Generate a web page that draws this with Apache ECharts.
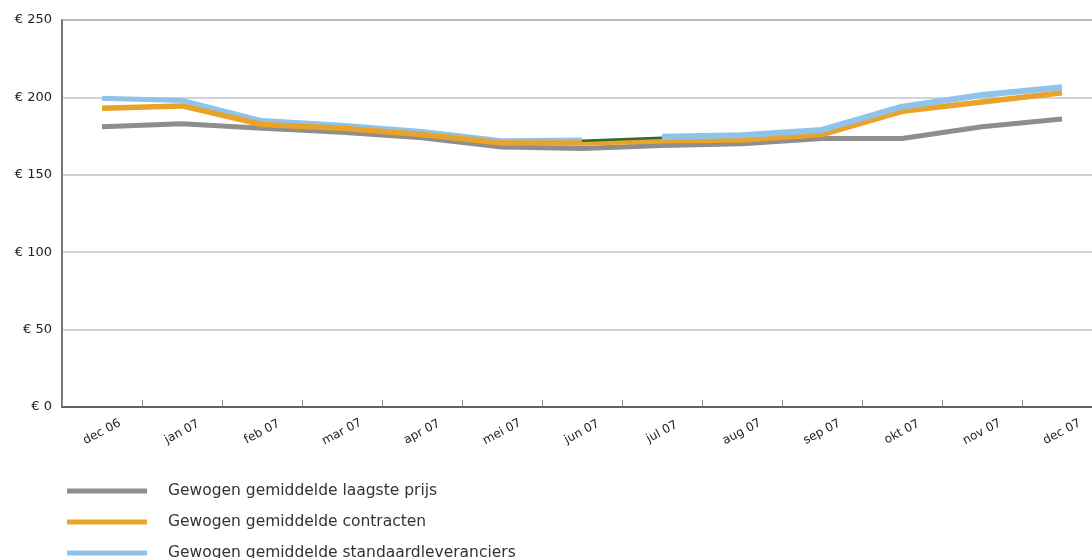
<!DOCTYPE html>
<html>
<head>
<meta charset="utf-8">
<script src="https://cdn.jsdelivr.net/npm/echarts@6/dist/echarts.min.js"></script>
<style>
  html, body { margin: 0; padding: 0; background: #fff; }
  #chart-container { width: 1092px; height: 558px; }
</style>
</head>
<body>
<div id="chart-container"></div>
<script>
// maanden (x-as)
const months = ['dec 06', 'jan 07', 'feb 07', 'mar 07', 'apr 07', 'mei 07', 'jun 07',
    'jul 07', 'aug 07', 'sep 07', 'okt 07', 'nov 07', 'dec 07'];

// prijzen in euro
const laagstePrijs = [181, 183, 180, 177.5, 174, 168, 167, 169, 170, 173.5, 173.5, 181, 186];
const contracten = [193, 194.5, 182.5, 180, 176, 170.5, 170.5, 172, 172.5, 176, 191, 197, 203];
const standaard = [199.5, 198, 185, 182, 178, 172, 172.5, 174.5, 175.5, 179, 194, 201.5, 206.5];
const tussenlijn = [null, null, null, null, null, null, 172, 174, null, null, null, null, null];

const yTicks = [0, 50, 100, 150, 200, 250];

const names = [
    'Gewogen gemiddelde laagste prijs',
    'Gewogen gemiddelde contracten',
    'Gewogen gemiddelde standaardleveranciers'
];
const colors = ['#8e8e8e', '#e9a328', '#8fc3ea'];

// standaardleveranciers in twee stukken (gat tussen jun en jul)
const splitAt = 6;
const standaardA = standaard.map((v, i) => (i <= splitAt ? v : null));
const standaardB = standaard.map((v, i) => (i >= splitAt + 1 ? v : null));

const FONT = 'DejaVu Sans';

// een legenda per regel, zodat niets omslaat
const legendTops = [478, 509, 540];
const legends = names.map((n, i) => ({
    data: [{ name: n, itemStyle: { color: colors[i] } }],
    left: 62,
    top: legendTops[i],
    itemWidth: 80,
    itemHeight: 5,
    icon: 'rect',
    selectedMode: false,
    textStyle: {
        fontFamily: FONT,
        fontSize: 15.5,
        color: '#333',
        padding: [0, 0, 0, 16]
    }
}));

const chart = echarts.init(document.getElementById('chart-container'));
chart.setOption({
    animation: false,
    grid: {
        left: 62,
        top: 20,
        width: 1040,
        height: 387,
        outerBoundsMode: 'none',
        show: true,
        borderColor: '#6e6e6e',
        borderWidth: 1.5
    },
    legend: legends,
    xAxis: {
        type: 'category',
        data: months,
        boundaryGap: true,
        axisLine: { lineStyle: { color: '#444', width: 1.5 } },
        axisTick: { show: true, inside: true, length: 7, lineStyle: { color: '#888', width: 1 } },
        axisLabel: {
            rotate: 28,
            align: 'center',
            verticalAlign: 'middle',
            margin: 25,
            fontFamily: FONT,
            fontSize: 12,
            color: '#222'
        }
    },
    yAxis: {
        type: 'value',
        min: yTicks[0],
        max: yTicks[yTicks.length - 1],
        interval: 50,
        axisLine: { show: true, lineStyle: { color: '#6e6e6e', width: 1.5 } },
        axisTick: { show: false },
        splitLine: { lineStyle: { color: '#c4c4c4', width: 1.5 } },
        axisLabel: {
            formatter: (v) => '€ ' + v,
            margin: 10,
            fontFamily: FONT,
            fontSize: 13,
            color: '#222'
        }
    },
    series: [
        {
            name: names[0], type: 'line', data: laagstePrijs, showSymbol: false,
            lineStyle: { color: colors[0], width: 5 }, itemStyle: { color: colors[0] }
        },
        {
            name: names[2], type: 'line', data: standaardA, showSymbol: false,
            lineStyle: { color: colors[2], width: 5 }, itemStyle: { color: colors[2] }
        },
        {
            name: names[1], type: 'line', data: contracten, showSymbol: false,
            lineStyle: { color: colors[1], width: 5.5 }, itemStyle: { color: colors[1] }
        },
        {
            name: 'tussen', type: 'line', data: tussenlijn, showSymbol: false,
            lineStyle: { color: '#2f6b2c', width: 2.5 }, itemStyle: { color: '#2f6b2c' }
        },
        {
            name: names[2], type: 'line', data: standaardB, showSymbol: false,
            lineStyle: { color: colors[2], width: 6 }, itemStyle: { color: colors[2] }
        }
    ]
});
</script>
</body>
</html>
